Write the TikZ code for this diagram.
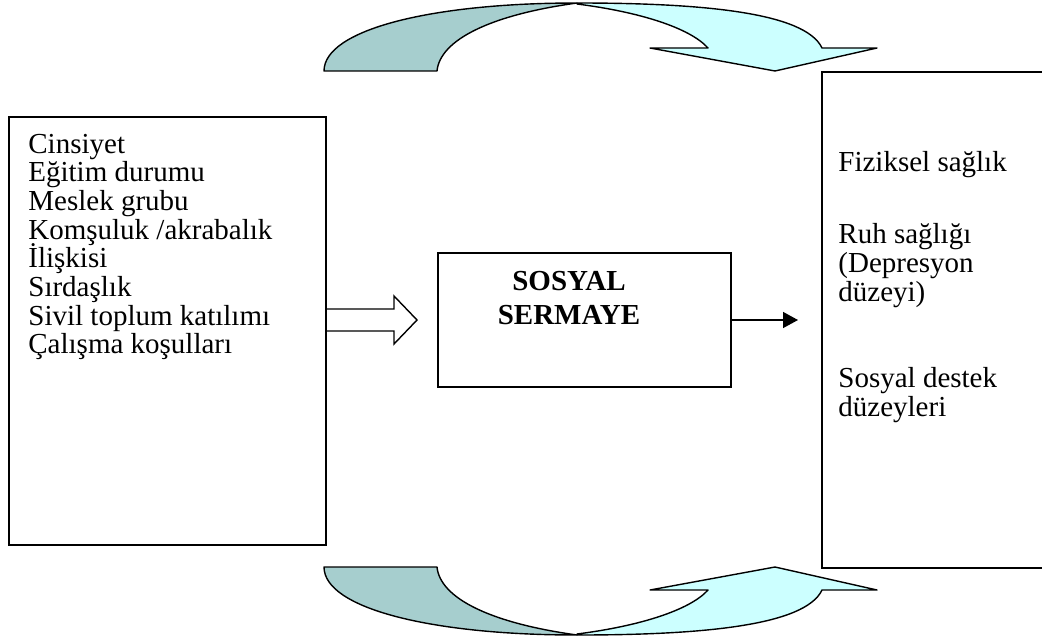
\documentclass[tikz,border=0pt]{standalone}
\usepackage{fontspec}
\setmainfont{Liberation Serif}
\usetikzlibrary{arrows.meta}
\definecolor{backface}{HTML}{A6CECE}
\definecolor{frontface}{HTML}{CCFFFF}
\newcommand{\swingarrow}{%
  \filldraw[band,fill=backface] (324,71) .. controls (324,30) and (430,3) .. (577,3)
    .. controls (490,15) and (440,40) .. (437,71) -- cycle;
  \filldraw[band,fill=frontface] (577,3) .. controls (700,3) and (805,12) .. (822,48)
    -- (877,48) -- (775,71) -- (650,48) -- (708,48)
    .. controls (690,28) and (640,12) .. (577,4) -- cycle;
}

\begin{document}
\begin{tikzpicture}[x=0.5pt,y=-0.5pt,
    box/.style={draw,line width=1pt,inner sep=0pt},
    txt/.style={inner sep=0pt,font=\fontsize{14.5}{17}\selectfont},
    band/.style={draw,line width=.7pt,line join=round}]
    \useasboundingbox (0,0) rectangle (1042,642);
    % curved arrows above and below
    \swingarrow
    \begin{scope}[shift={(0,638)},yscale=-1]
      \swingarrow
    \end{scope}
    % boxes
    \node[box,anchor=north west,minimum width=158.5pt,minimum height=214pt] (factors) at (8,116) {};
    \node[box,anchor=north west,minimum width=146.5pt,minimum height=67pt] (capital) at (437,252) {};
    \node[box,anchor=north west,minimum width=150pt,minimum height=248pt] (outcomes) at (821,71) {};
    \foreach \t [count=\i from 0] in {Cinsiyet,Eğitim durumu,Meslek grubu,Komşuluk /akrabalık,İlişkisi,Sırdaşlık,Sivil toplum katılımı,Çalışma koşulları}
      \node[txt,anchor=base west] (f\i) at (28,153+28.7*\i) {\t};
    \node[txt,font=\fontsize{14.5}{17}\selectfont\bfseries,align=center,anchor=north] (captext) at (569,271) {SOSYAL\\SERMAYE};
    \foreach \y/\t [count=\i] in {171/{Fiziksel sağlık},243/{Ruh sağlığı},272/{(Depresyon},301/{düzeyi)},387/{Sosyal destek},416/{düzeyleri}}
      \node[txt,anchor=base west] (o\i) at (838,\y) {\t};
    % connectors
    \draw[line width=.7pt,line join=miter] (factors.east) ++(0,-22) -- ++(67,0) -- ++(0,-13) -- ++(23,24) -- ++(-23,24) -- ++(0,-13) -- ++(-67,0);
    \draw[-{Triangle[length=7.5pt,width=8pt]},line width=.7pt,shorten >=11.5pt] (capital.east) -- (capital.east -| outcomes.west);
\end{tikzpicture}
\end{document}
